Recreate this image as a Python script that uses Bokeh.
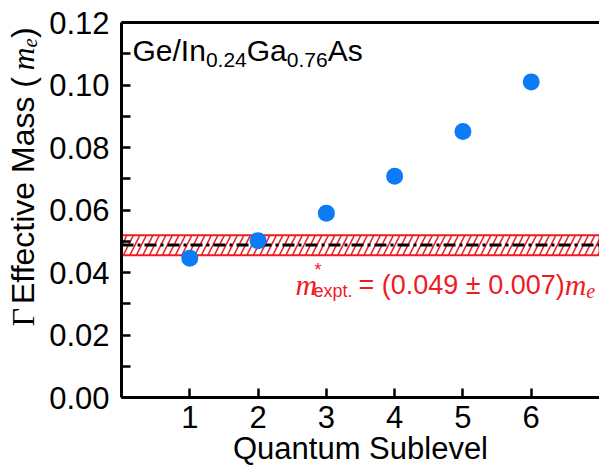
import math
from bokeh.plotting import figure
from bokeh.layouts import row
from bokeh.models import Range1d, LinearAxis, FixedTicker, Label, PrintfTickFormatter
from bokeh.core.properties import value
from bokeh.embed import file_html
from bokeh.resources import INLINE

# ---------------- data ----------------
sublevels = [1, 2, 3, 4, 5, 6]
eff_mass = [0.0446, 0.0502, 0.0590, 0.0708, 0.0851, 0.1010]
expt_mass = 0.0488
band_low = 0.0455
band_high = 0.0519
x_ticks = [1, 2, 3, 4, 5, 6]
y_ticks = [0.00, 0.02, 0.04, 0.06, 0.08, 0.10, 0.12]
y_minor_ticks = [0.01, 0.03, 0.05, 0.07, 0.09, 0.11]
x_lim = (0, 7)
y_lim = (0, 0.12)

BLUE = "#0B7CF6"
RED = "#EE1C25"
SANS = "Liberation Sans"
SERIF = "Liberation Serif"

# advance widths (per 1000 em)
ARIAL = {' ': 278, '(': 333, ')': 333, '.': 278, '/': 278, '=': 584, '±': 549, '*': 389,
         'A': 667, 'E': 667, 'G': 778, 'I': 278, 'M': 833, 'Q': 778, 'S': 667,
         'a': 556, 'b': 556, 'c': 500, 'e': 556, 'f': 278, 'i': 222, 'l': 222, 'm': 833,
         'n': 556, 'p': 556, 's': 500, 't': 278, 'u': 556, 'v': 500, 'x': 500}
for d in "0123456789":
    ARIAL[d] = 556
SERIF_W = {'Γ': 578, 'm': 722, 'e': 444}


def text_width(s, font, size):
    table = ARIAL if font == SANS else SERIF_W
    return sum(table.get(ch, 556) for ch in s) * size / 1000.0


H = 468
LW = 45           # width of the strip that holds the rotated y title
TOP, BOTTOM = 22, 71

# ---------- strip with the y-axis title ----------
ttl = figure(width=LW, height=H, output_backend="svg", toolbar_location=None,
             x_range=Range1d(0, LW), y_range=Range1d(BOTTOM, H - TOP),
             x_axis_location=None, y_axis_location=None,
             min_border_left=0, min_border_right=0, min_border_top=TOP, min_border_bottom=BOTTOM)
ttl.outline_line_color = None
ttl.xgrid.visible = False
ttl.ygrid.visible = False

# (text, font, size, style, baseline offset, extra gap after)
ypieces = [("Γ", SERIF, 32, "normal", 0, 4), (" Effective Mass (", SANS, 32, "normal", 0, -3),
           ("m", SERIF, 32, "italic", 0, 0), ("e", SERIF, 21, "italic", 7, 0),
           (")", SANS, 32, "normal", 0, 0)]
along = H - 326.0
for txt, font, size, style, off, gap in ypieces:
    ttl.text(x=[22 + off], y=[along], text=[txt], angle=math.pi / 2,
             text_font=value(font), text_font_size=value(f"{size}px"),
             text_font_style=style, text_color="black",
             text_align="left", text_baseline="alphabetic")
    along += text_width(txt, font, size) + gap

# ---------- main plot ----------
p = figure(width=599 - LW, height=H, output_backend="svg", toolbar_location=None,
           x_range=Range1d(*x_lim), y_range=Range1d(*y_lim),
           x_axis_location=None, y_axis_location=None,
           min_border_left=121 - LW, min_border_right=0, min_border_top=TOP, min_border_bottom=BOTTOM)
p.outline_line_color = None
p.xgrid.visible = False
p.ygrid.visible = False
p.background_fill_color = "white"
p.border_fill_color = "white"


def style_axis(ax):
    ax.axis_line_width = 3
    ax.axis_line_color = "black"
    ax.major_tick_line_width = 2.5
    ax.minor_tick_line_width = 2.5
    ax.major_tick_in = 9
    ax.major_tick_out = 0
    ax.minor_tick_in = 9
    ax.minor_tick_out = 0
    ax.major_label_text_font = SANS
    ax.major_label_text_font_size = "31px"
    ax.major_label_text_color = "black"


yaxis = LinearAxis(ticker=FixedTicker(ticks=y_ticks, minor_ticks=y_minor_ticks),
                   formatter=PrintfTickFormatter(format="%.2f"))
style_axis(yaxis)
yaxis.major_label_standoff = 12
p.add_layout(yaxis, "left")

xaxis = LinearAxis(ticker=FixedTicker(ticks=x_ticks), formatter=PrintfTickFormatter(format="%d"))
style_axis(xaxis)
xaxis.major_label_standoff = 8
xaxis.axis_label = "Quantum Sublevel"
xaxis.axis_label_text_font = SANS
xaxis.axis_label_text_font_size = "31px"
xaxis.axis_label_text_font_style = "normal"
xaxis.axis_label_text_color = "black"
xaxis.axis_label_standoff = 0
p.add_layout(xaxis, "below")

top_axis = LinearAxis(ticker=FixedTicker(ticks=[]))
style_axis(top_axis)
top_axis.major_label_text_color = None
p.add_layout(top_axis, "above")

# experimental band
p.quad(left=[x_lim[0]], right=[x_lim[1]], bottom=[band_low], top=[band_high],
       fill_color=None, hatch_pattern="/", hatch_color=RED, hatch_scale=13, hatch_weight=1.6,
       line_color=RED, line_width=2)
p.line(x=list(x_lim), y=[expt_mass, expt_mass], line_color="black", line_width=3,
       line_dash="12 4 3 4")

p.scatter(sublevels, eff_mass, size=17, fill_color=BLUE, line_color=None)


def label(text, x, y, font, size, color="black", style="normal", align="left"):
    p.add_layout(Label(x=x, y=y, x_units="screen", y_units="screen", text=text,
                       text_font=font, text_font_size=f"{size}px", text_color=color,
                       text_font_style=style, text_align=align,
                       text_baseline="alphabetic"))


# sample label top-left
xpos = 11.0
for txt, size, y in [("Ge/In", 30, 347), ("0.24", 21, 338), ("Ga", 30, 347),
                     ("0.76", 21, 338), ("As", 30, 347)]:
    label(txt, xpos, y, SANS, size)
    xpos += text_width(txt, SANS, size)

# experimental value annotation
label("m", 174, 113, SERIF, 30, color=RED, style="italic")
label("*", 193, 128, SANS, 18, color=RED)
label("expt.", 192, 107, SANS, 18, color=RED)
eq = "= (0.049 ± 0.007)"
label(eq, 237, 113, SANS, 27, color=RED)
xm = 237 + text_width(eq, SANS, 27)
label("m", xm, 113, SERIF, 30, color=RED, style="italic")
label("e", xm + text_width("m", SERIF, 30), 107, SERIF, 20, color=RED, style="italic")

layout = row(ttl, p, spacing=0)
open("out.html", "w").write(file_html(layout, INLINE))
